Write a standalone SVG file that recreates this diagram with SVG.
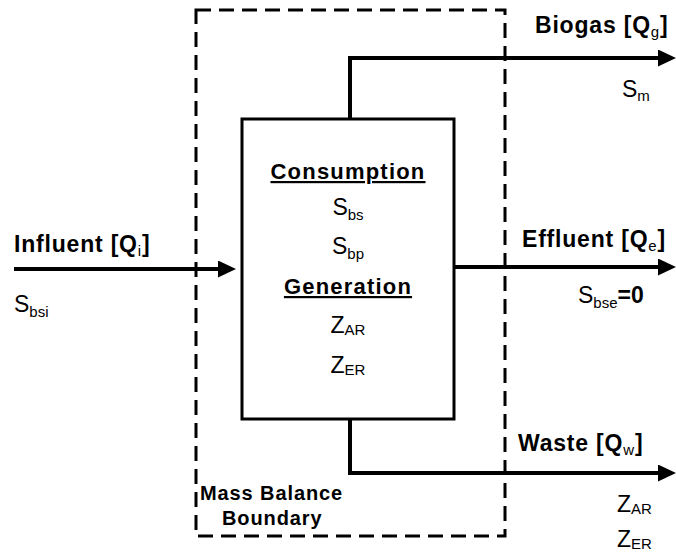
<svg xmlns="http://www.w3.org/2000/svg" width="676" height="554" viewBox="0 0 676 554">
<style>
text{font-family:"Liberation Sans",Arial,sans-serif;fill:#000;}
.lbl{font-size:23px;font-weight:bold;letter-spacing:0.8px;}
.lbl .sub{font-weight:normal;}
.var{font-size:23px;}
.sub{font-size:15px;}
.hd{font-size:22px;font-weight:bold;letter-spacing:1.2px;text-decoration:underline;}
.mb{font-size:20px;font-weight:bold;letter-spacing:0.9px;}
.flow{fill:none;stroke:#000;stroke-width:4;marker-end:url(#arr);}
</style>
<defs>
<marker id="arr" markerUnits="userSpaceOnUse" markerWidth="18" markerHeight="17" refX="12" refY="8.5" orient="auto">
<path d="M0,0 L18,8.5 L0,17 z" fill="#000"/>
</marker>
</defs>
<rect width="676" height="554" fill="#fff"/>
<g id="boundary">
<rect x="196" y="10" width="309" height="526" fill="none" stroke="#000" stroke-width="3" stroke-dasharray="15 8"/>
<text class="mb" x="200" y="500">Mass Balance</text>
<text class="mb" x="222" y="525">Boundary</text>
</g>
<g id="connectors">
<path class="flow" d="M14,269 H230"/>
<path class="flow" d="M350,119 V58 H670"/>
<path class="flow" d="M455,267 H670"/>
<path class="flow" d="M350,419 V473 H670"/>
</g>
<g id="reactor">
<rect x="242" y="119" width="212" height="300" fill="#fff" stroke="#000" stroke-width="3"/>
<text class="hd" x="348" y="179" text-anchor="middle">Consumption</text>
<text class="var" x="348" y="215" text-anchor="middle">S<tspan class="sub" dy="5">bs</tspan></text>
<text class="var" x="348" y="254" text-anchor="middle">S<tspan class="sub" dy="5">bp</tspan></text>
<text class="hd" x="348" y="294" text-anchor="middle">Generation</text>
<text class="var" x="348" y="333" text-anchor="middle">Z<tspan class="sub" dy="2">AR</tspan></text>
<text class="var" x="348" y="373" text-anchor="middle">Z<tspan class="sub" dy="2">ER</tspan></text>
</g>
<g id="influent">
<text class="lbl" x="14" y="252">Influent [Q<tspan class="sub" dy="4">i</tspan><tspan dy="-4">]</tspan></text>
<text class="var" x="14" y="312">S<tspan class="sub" dy="5">bsi</tspan></text>
</g>
<g id="biogas">
<text class="lbl" x="535" y="33">Biogas [Q<tspan class="sub" dy="4">g</tspan><tspan dy="-4">]</tspan></text>
<text class="var" x="622" y="97">S<tspan class="sub" dy="4">m</tspan></text>
</g>
<g id="effluent">
<text class="lbl" x="522" y="247">Effluent [Q<tspan class="sub" dy="4">e</tspan><tspan dy="-4">]</tspan></text>
<text class="var" x="578" y="303">S<tspan class="sub" dy="5">bse</tspan><tspan dy="-5" font-weight="bold">=0</tspan></text>
</g>
<g id="waste">
<text class="lbl" x="518" y="451">Waste [Q<tspan class="sub" dy="4">w</tspan><tspan dy="-4">]</tspan></text>
<text class="var" x="617" y="512">Z<tspan class="sub" dy="2">AR</tspan></text>
<text class="var" x="617" y="547">Z<tspan class="sub" dy="2">ER</tspan></text>
</g>
</svg>
